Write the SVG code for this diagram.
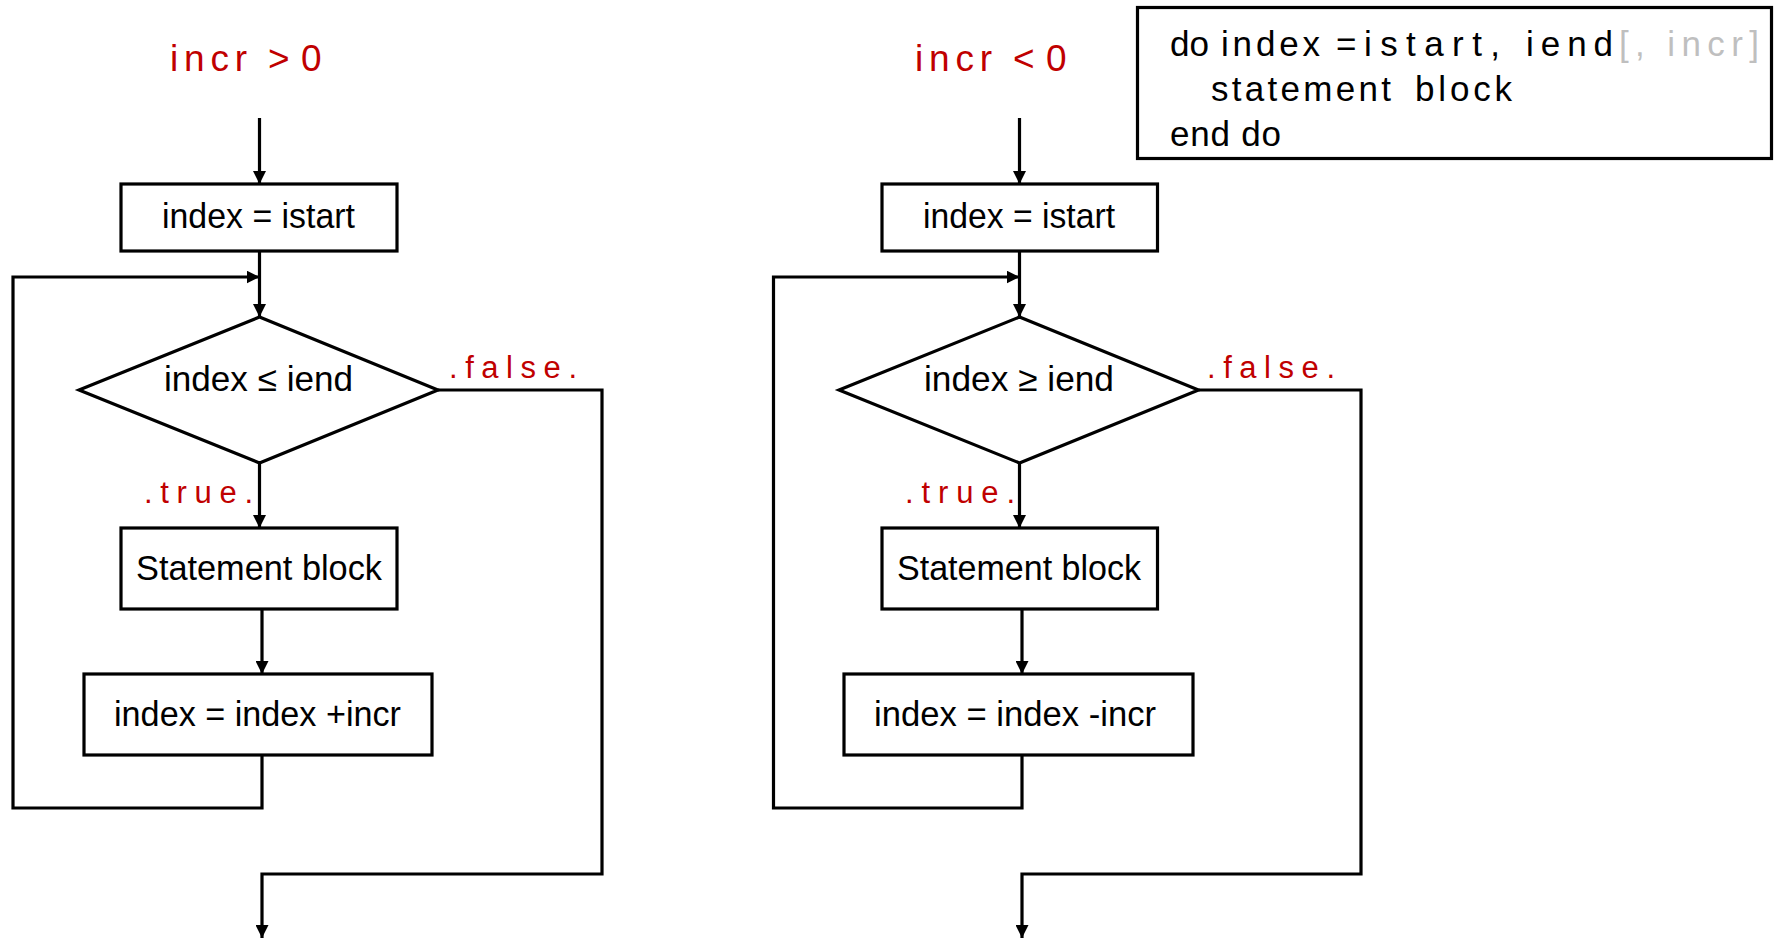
<svg xmlns="http://www.w3.org/2000/svg" width="1780" height="940" viewBox="0 0 1780 940">
<style>
.box{fill:#fff;stroke:#000;stroke-width:3.2}
.lbl{font-family:"Liberation Sans",Arial,sans-serif;font-size:35px;fill:#000}
.red{font-family:"Liberation Sans",Arial,sans-serif;fill:#c00000}
.cond{font-size:37px}
.tf{font-size:31px}
.code{font-family:"Liberation Sans",Arial,sans-serif;font-size:35px;fill:#000}
.gray{fill:#bfbfbf}
.conn path{fill:none;stroke:#000;stroke-width:3.2}
</style>
<defs>
<marker id="arr" markerUnits="userSpaceOnUse" markerWidth="14" markerHeight="13" refX="13" refY="6.5" orient="auto">
<path d="M0,0 L13,6.5 L0,13 z" fill="#000"/>
</marker>
</defs>
<rect width="1780" height="940" fill="#fff"/>

<g id="connectors" class="conn">
<path d="M259.5,118 V184" marker-end="url(#arr)"/>
<path d="M259.5,251 V317" marker-end="url(#arr)"/>
<path d="M262,755 V808 H13 V277 H259.5" marker-end="url(#arr)"/>
<path d="M259.5,463 V528" marker-end="url(#arr)"/>
<path d="M262,609 V674" marker-end="url(#arr)"/>
<path d="M438,390 H602 V874 H262 V938" marker-end="url(#arr)"/>
<path d="M1019.5,118 V184" marker-end="url(#arr)"/>
<path d="M1019.5,251 V317" marker-end="url(#arr)"/>
<path d="M1022,755 V808 H773.5 V277 H1019.5" marker-end="url(#arr)"/>
<path d="M1019.5,463 V528" marker-end="url(#arr)"/>
<path d="M1022,609 V674" marker-end="url(#arr)"/>
<path d="M1198.5,390 H1361 V874 H1022 V938" marker-end="url(#arr)"/>
</g>

<g id="cond-left">
<text class="red cond" y="71"><tspan x="170" textLength="77" lengthAdjust="spacing">incr</tspan><tspan x="268">&gt;</tspan><tspan x="301">0</tspan></text>
</g>
<g id="init-left">
<rect class="box" x="121" y="184" width="276" height="67"/>
<text class="lbl" x="162" y="228" textLength="193" lengthAdjust="spacingAndGlyphs">index = istart</text>
</g>
<g id="test-left">
<polygon class="box" points="259.5,317 438,390 259.5,463 79,390"/>
<text class="lbl" x="164" y="391" textLength="189" lengthAdjust="spacingAndGlyphs">index ≤ iend</text>
</g>
<g id="labels-left">
<text class="red tf" x="449" y="378" textLength="128" lengthAdjust="spacing">.false.</text>
<text class="red tf" x="144" y="503" textLength="109" lengthAdjust="spacing">.true.</text>
</g>
<g id="body-left">
<rect class="box" x="121" y="528" width="276" height="81"/>
<text class="lbl" x="136" y="580" textLength="246" lengthAdjust="spacingAndGlyphs">Statement block</text>
</g>
<g id="step-left">
<rect class="box" x="84" y="674" width="348" height="81"/>
<text class="lbl" x="114" y="726" textLength="287" lengthAdjust="spacingAndGlyphs">index = index +incr</text>
</g>

<g id="cond-right">
<text class="red cond" y="71"><tspan x="915" textLength="77" lengthAdjust="spacing">incr</tspan><tspan x="1013">&lt;</tspan><tspan x="1046">0</tspan></text>
</g>
<g id="init-right">
<rect class="box" x="882" y="184" width="275.5" height="67"/>
<text class="lbl" x="923" y="228" textLength="192" lengthAdjust="spacingAndGlyphs">index = istart</text>
</g>
<g id="test-right">
<polygon class="box" points="1019.5,317 1198.5,390 1019.5,463 839,390"/>
<text class="lbl" x="924" y="391" textLength="190" lengthAdjust="spacingAndGlyphs">index ≥ iend</text>
</g>
<g id="labels-right">
<text class="red tf" x="1207" y="378" textLength="128" lengthAdjust="spacing">.false.</text>
<text class="red tf" x="905" y="503" textLength="110" lengthAdjust="spacing">.true.</text>
</g>
<g id="body-right">
<rect class="box" x="882" y="528" width="275.5" height="81"/>
<text class="lbl" x="897" y="580" textLength="244" lengthAdjust="spacingAndGlyphs">Statement block</text>
</g>
<g id="step-right">
<rect class="box" x="844" y="674" width="349" height="81"/>
<text class="lbl" x="874" y="726" textLength="282" lengthAdjust="spacingAndGlyphs">index = index -incr</text>
</g>

<g id="code">
<rect class="box" x="1137.5" y="7.5" width="634" height="151"/>
<text class="code" x="1170" y="56" textLength="39" lengthAdjust="spacingAndGlyphs">do</text>
<text class="code" x="1221" y="56" textLength="99" lengthAdjust="spacing">index</text>
<text class="code" x="1336" y="56">=</text>
<text class="code" x="1364" y="56" textLength="136" lengthAdjust="spacing">istart,</text>
<text class="code" x="1526" y="56" textLength="87" lengthAdjust="spacing">iend</text>
<text class="code gray" x="1619" y="56" textLength="140" lengthAdjust="spacing">[, incr]</text>
<text class="code" x="1211" y="101" textLength="180" lengthAdjust="spacing">statement</text>
<text class="code" x="1415" y="101" textLength="97" lengthAdjust="spacing">block</text>
<text class="code" x="1170" y="146" textLength="111" lengthAdjust="spacing">end do</text>
</g>
</svg>
